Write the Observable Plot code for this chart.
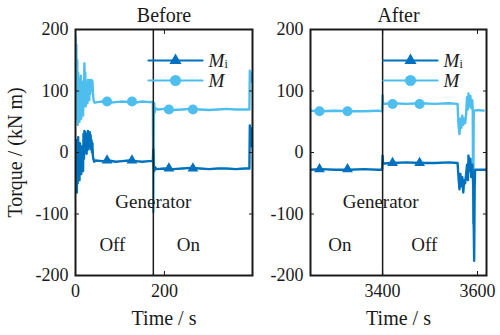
<!DOCTYPE html>
<html><head><meta charset="utf-8">
<script src="https://cdn.jsdelivr.net/npm/d3@7"></script>
<script src="https://cdn.jsdelivr.net/npm/@observablehq/plot@0.6"></script>
<style>
body{margin:0;background:#fff;}
#chart{display:flex;width:500px;height:335px;overflow:hidden;}
#chart svg, #chart svg text{font-family:"Liberation Serif","DejaVu Serif",serif !important;}
</style></head><body><div id="chart"></div>
<script>
// ---------- data ----------
const panelTitles = ["Before", "After"];
const seriesNames = ["M", "Mi"];
const yTicks = [-200, -100, 0, 100, 200];
const xTicksBefore = [0, 200];
const xTicksAfter = [3400, 3600];
const xDomainBefore = [0, 398];
const xDomainAfter = [3248, 3619];
const switchBefore = [175];
const switchAfter = [3400];

// Before: M
const beforeTimeM = [0,1,2,3,4,5,6,7,8,9,10,11,12,13,14,15,16,17,18,19,20,21,22,23,24,25,26,27,28,29,30,31,32,33,34,35,36,37,38,39,40,41,43,50,60,75,90,105,120,135,150,165,174,175,176,177,178,180,185,200,220,240,260,280,300,320,340,360,380,391,392,395,398];
const beforeM     = [190,70,175,55,150,45,130,60,120,50,110,65,125,55,100,70,115,60,95,75,145,80,130,75,110,85,105,80,118,90,112,85,118,95,115,100,118,105,116,100,90,84,81,82,83,81,82,83,82,81,83,82,82,-97,60,80,65,72,70,71,69,70,71,70,69,70,71,70,70,70,133,115,130];
// Before: Mi
const beforeTimeMi = [0,1,2,3,4,5,6,7,8,9,10,11,12,13,14,15,16,17,18,19,20,21,22,23,24,25,26,27,28,29,30,31,32,33,34,35,36,37,38,39,40,42,45,60,75,90,105,120,135,150,165,174,175,176,177,179,182,200,220,240,260,280,300,320,340,360,380,391,392,395,398];
const beforeMi     = [-10,-60,20,-65,10,-50,25,-40,5,-45,15,-30,0,-35,10,-25,-5,-30,30,-10,35,0,33,5,30,-2,25,8,35,5,30,10,33,8,28,5,20,0,15,-5,-10,-15,-13,-14,-13,-15,-14,-13,-14,-15,-14,-14,5,-20,-30,-24,-27,-26,-27,-26,-25,-26,-27,-26,-26,-27,-26,-26,44,10,40];

// After: M
const afterTimeM = [3248,3270,3300,3330,3360,3390,3399,3400,3401,3403,3420,3450,3480,3510,3540,3557,3558,3560,3562,3564,3566,3568,3570,3572,3574,3576,3578,3580,3581,3583,3585,3587,3589,3590,3591,3592,3593,3600,3613];
const afterM     = [68,67,68,67,67,68,67,93,80,79,80,79,80,79,80,79,79,45,30,55,40,60,45,55,48,62,90,70,96,75,92,72,85,70,-115,60,68,69,68];
// After: Mi
const afterTimeMi = [3248,3270,3300,3330,3360,3390,3399,3400,3401,3403,3420,3450,3480,3510,3540,3557,3558,3560,3562,3564,3566,3568,3570,3572,3574,3576,3578,3580,3581,3583,3585,3587,3589,3591,3593,3594,3595,3619];
const afterMi     = [-28,-27,-28,-28,-27,-28,-28,-5,-17,-18,-17,-16,-17,-17,-16,-17,-17,-40,-60,-35,-55,-40,-65,-45,-50,-35,-20,-45,-5,-30,-10,-40,-20,-50,-176,-60,-28,-28];

// markers
const markerTimesBefore = [71, 127, 210, 264];
const markerMBefore = [83, 83, 70, 70];
const markerMiBefore = [-13, -13, -26, -26];
const markerTimesAfter = [3267, 3326, 3421, 3478];
const markerMAfter = [67, 67, 79, 79];
const markerMiAfter = [-27, -27, -17, -17];

// annotations
const annotTextBefore = ["Generator", "Off", "On"];
const annotXBefore = [175, 83, 254];
const annotYBefore = [-80, -151, -151];
const annotTextAfter = ["Generator", "On", "Off"];
const annotXAfter = [3396, 3310, 3488];
const annotYAfter = [-80, -151, -151];

// ---------- rendering ----------
const DARK = "#0072BD", LIGHT = "#4DBEEE", INK = "#1a1a1a";
const FONT = "Liberation Serif";
const zip = (xs, ys) => xs.map((x, i) => ({t: x, v: ys[i]}));
const lineShape = {draw(ctx, l) { ctx.moveTo(0, 0); ctx.lineTo(0, -l); }};
const T = {fontFamily: FONT, fill: INK, lineAnchor: "middle"};

function panel(o) {
  const marks = [
    Plot.line(zip(o.tM, o.vM), {x: "t", y: "v", stroke: LIGHT, strokeWidth: 2.4, clip: true}),
    Plot.line(zip(o.tMi, o.vMi), {x: "t", y: "v", stroke: DARK, strokeWidth: 2.4, clip: true}),
    Plot.dot(zip(o.mt, o.mM), {x: "t", y: "v", r: 5, fill: LIGHT, symbol: "circle"}),
    Plot.dot(zip(o.mt, o.mMi), {x: "t", y: "v", r: 4, fill: DARK, symbol: "triangle"}),
    Plot.ruleX(o.sw, {stroke: INK, strokeWidth: 1.5}),
    Plot.text(o.aText, {...T, x: (d, i) => o.aX[i], y: (d, i) => o.aY[i], text: d => d, fontSize: 19}),
    // legend
    Plot.vector([seriesNames[1]], {frameAnchor: "top-left", dx: 73, dy: 31, length: 54, rotate: 90, anchor: "start", shape: lineShape, stroke: DARK, strokeWidth: 2.2}),
    Plot.vector([seriesNames[0]], {frameAnchor: "top-left", dx: 73, dy: 51, length: 54, rotate: 90, anchor: "start", shape: lineShape, stroke: LIGHT, strokeWidth: 2.2}),
    Plot.dot([seriesNames[1]], {frameAnchor: "top-left", dx: 100, dy: 31, r: 4.5, symbol: "triangle", fill: DARK}),
    Plot.dot([seriesNames[0]], {frameAnchor: "top-left", dx: 100, dy: 51, r: 5.5, symbol: "circle", fill: LIGHT}),
    Plot.text(["M"], {...T, frameAnchor: "top-left", dx: 133, dy: 31, textAnchor: "start", fontStyle: "italic", fontSize: 19}),
    Plot.text(["i"], {...T, frameAnchor: "top-left", dx: 149, dy: 35, textAnchor: "start", fontSize: 12}),
    Plot.text(["M"], {...T, frameAnchor: "top-left", dx: 133, dy: 51, textAnchor: "start", fontStyle: "italic", fontSize: 19}),
    // frame & axes
    Plot.frame({stroke: INK, strokeWidth: 2}),
    Plot.axisY({ticks: yTicks, tickSize: -4, tickPadding: 11, label: null, fontSize: 18, fontFamily: FONT, stroke: INK, fill: INK, tickFormat: d => String(d)}),
    Plot.axisY({anchor: "right", ticks: yTicks, tickSize: -4, label: null, tickFormat: () => "", stroke: INK}),
    Plot.axisX({ticks: o.xTicks, tickSize: -4, tickPadding: 13, label: null, fontSize: 18, fontFamily: FONT, stroke: INK, fill: INK, tickFormat: d => String(d)}),
    Plot.axisX({anchor: "top", ticks: o.xTicks, tickSize: -4, label: null, tickFormat: () => "", stroke: INK}),
    Plot.text([o.title], {...T, frameAnchor: "top", dy: -14, fontSize: 20}),
    Plot.text(["Time / s"], {...T, frameAnchor: "bottom", dy: 43, fontSize: 20})
  ];
  if (o.yLabel) marks.push(Plot.text(["Torque / (kN m)"], {...T, frameAnchor: "left", dx: -60, rotate: -90, textAnchor: "middle", fontSize: 20}));
  return Plot.plot({
    width: o.width, height: 335,
    marginLeft: o.ml, marginRight: o.mr, marginTop: 29, marginBottom: 60,
    x: {domain: o.xDomain},
    y: {domain: [-200, 200]},
    style: {fontFamily: FONT, fontSize: "18px", background: "white", color: INK, overflow: "visible"},
    marks
  });
}

const chart = document.getElementById("chart");
chart.append(panel({
  width: 255, ml: 75, mr: 3, xDomain: xDomainBefore, xTicks: xTicksBefore, title: panelTitles[0],
  tM: beforeTimeM, vM: beforeM, tMi: beforeTimeMi, vMi: beforeMi,
  mt: markerTimesBefore, mM: markerMBefore, mMi: markerMiBefore, sw: switchBefore,
  aText: annotTextBefore, aX: annotXBefore, aY: annotYBefore, yLabel: true
}));
chart.append(panel({
  width: 245, ml: 55, mr: 14, xDomain: xDomainAfter, xTicks: xTicksAfter, title: panelTitles[1],
  tM: afterTimeM, vM: afterM, tMi: afterTimeMi, vMi: afterMi,
  mt: markerTimesAfter, mM: markerMAfter, mMi: markerMiAfter, sw: switchAfter,
  aText: annotTextAfter, aX: annotXAfter, aY: annotYAfter, yLabel: false
}));
</script></body></html>
